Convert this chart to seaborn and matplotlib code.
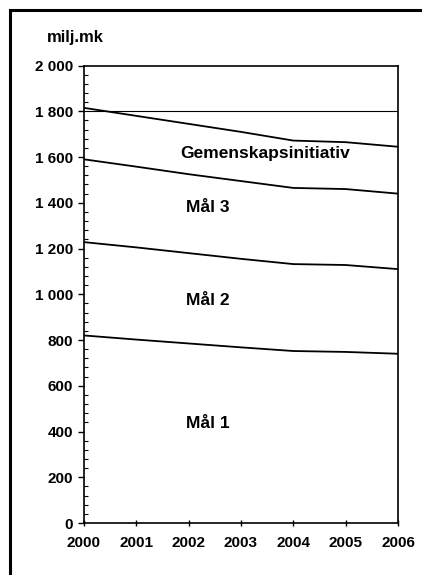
import numpy as np
import matplotlib
matplotlib.use("Agg")
import matplotlib.pyplot as plt
import seaborn as sns
from matplotlib.patches import Rectangle
from matplotlib.ticker import MultipleLocator


# --------------------------------------------------
# Data (milj. mk, stacked)
# --------------------------------------------------

years = [2000, 2001, 2002, 2003, 2004, 2005, 2006]

mal_1 = [820, 802, 785, 768, 752, 748, 740]
mal_2 = [408, 403, 395, 387, 380, 380, 370]
mal_3 = [362, 353, 345, 340, 333, 332, 330]
gemenskap = [225, 222, 220, 215, 207, 205, 205]

series_names = ["Mål 1", "Mål 2", "Mål 3", "Gemenskapsinitiativ"]
label_years = [2002.37, 2002.37, 2002.37, 2003.46]
label_values = [437, 975, 1381, 1617]

y_ticks = [0, 200, 400, 600, 800, 1000, 1200, 1400, 1600, 1800, 2000]
y_tick_labels = ["0", "200", "400", "600", "800", "1 000", "1 200",
                 "1 400", "1 600", "1 800", "2 000"]


# --------------------------------------------------
# Plot
# --------------------------------------------------

sns.set_style("ticks")
plt.rcParams["font.family"] = ["Liberation Sans", "DejaVu Sans"]
plt.rcParams["font.weight"] = "bold"
plt.rcParams["text.color"] = "black"
plt.rcParams["xtick.color"] = "black"
plt.rcParams["ytick.color"] = "black"

fig = plt.figure(figsize=(4.22, 5.75), dpi=100)
ax = fig.add_axes([0.199, 0.0904, 0.744, 0.7956])

stacked = np.cumsum([mal_1, mal_2, mal_3, gemenskap], axis=0)

for values in stacked:
    sns.lineplot(x=years, y=values, ax=ax, color="black", linewidth=1.3)

ax.axhline(1800, color="black", linewidth=0.8)

for name, lx, ly in zip(series_names, label_years, label_values):
    ax.text(lx, ly, name, ha="center", va="center",
            fontsize=12.5, fontweight="bold", color="black")

ax.set_xlim(years[0], years[-1])
ax.set_ylim(0, 2000)
ax.set_xticks(years)
ax.set_xticklabels([str(y) for y in years], fontsize=11, fontweight="bold")
ax.set_yticks(y_ticks)
ax.set_yticklabels(y_tick_labels, fontsize=11, fontweight="bold")
ax.yaxis.set_minor_locator(MultipleLocator(40))

ax.tick_params(axis="y", which="major", direction="out", length=4,
               width=1, pad=4)
ax.tick_params(axis="y", which="minor", direction="in", length=3, width=0.8)
ax.tick_params(axis="x", which="major", direction="inout", length=5,
               width=1, pad=7)

for side in ["left", "bottom", "top", "right"]:
    ax.spines[side].set_visible(True)
    ax.spines[side].set_color("black")
    ax.spines[side].set_linewidth(1.2)

ax.set_xlabel("")
ax.set_ylabel("")

fig.text(0.111, 0.934, "milj.mk", fontsize=12, fontweight="bold",
         ha="left", va="center")

# outer frame of the scanned page
fig.patches.append(Rectangle((0.024, -0.2), 1.2, 1.183,
                             transform=fig.transFigure, fill=False,
                             edgecolor="black", linewidth=2.2))

fig.savefig("out.png", dpi=100)
